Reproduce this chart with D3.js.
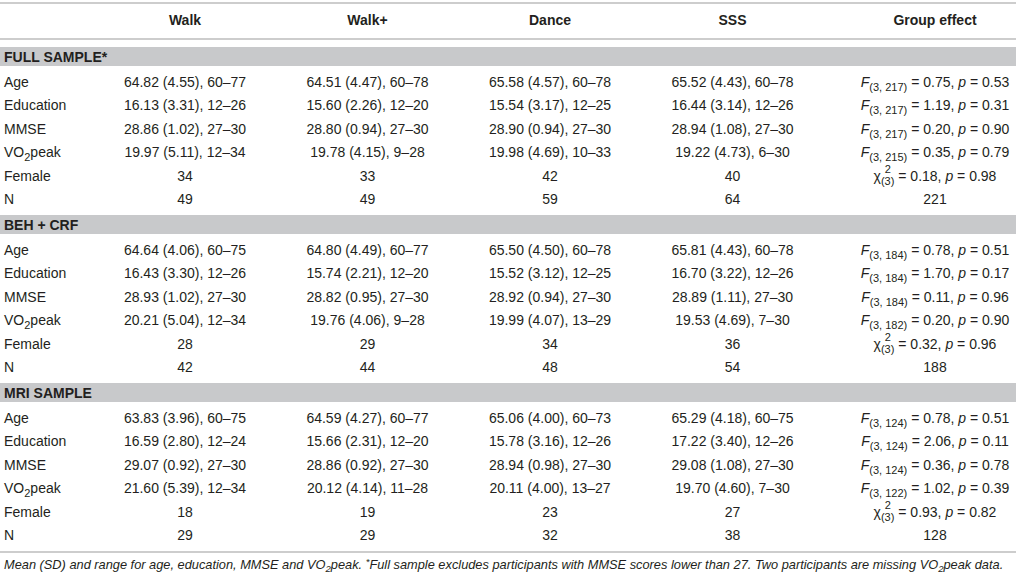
<!DOCTYPE html>
<html><head><meta charset="utf-8">
<script src="https://cdn.jsdelivr.net/npm/d3@7"></script>
<style>
html,body{margin:0;padding:0;background:#fff;}
svg text{font-family:"Liberation Sans",Arial,Helvetica,sans-serif;fill:#231f20;}
</style></head>
<body>
<svg id="chart" width="1016" height="578"></svg>
<script>
// ---------- DATA ----------
const groups = ["Walk", "Walk+", "Dance", "SSS"];
const effectHeader = "Group effect";
const variables = ["Age", "Education", "MMSE", "VO2peak", "Female", "N"];
const sections = ["FULL SAMPLE*", "BEH + CRF", "MRI SAMPLE"];

// FULL SAMPLE
const fullMean  = [[64.82, 64.51, 65.58, 65.52], [16.13, 15.60, 15.54, 16.44], [28.86, 28.80, 28.90, 28.94], [19.97, 19.78, 19.98, 19.22]];
const fullSD    = [[4.55, 4.47, 4.57, 4.43], [3.31, 2.26, 3.17, 3.14], [1.02, 0.94, 0.94, 1.08], [5.11, 4.15, 4.69, 4.73]];
const fullMin   = [[60, 60, 60, 60], [12, 12, 12, 12], [27, 27, 27, 27], [12, 9, 10, 6]];
const fullMax   = [[77, 78, 78, 78], [26, 20, 25, 26], [30, 30, 30, 30], [34, 28, 33, 30]];
const fullFemale = [34, 33, 42, 40];
const fullN      = [49, 49, 59, 64];
const fullTotal  = 221;
const fullTests  = [["F", "3, 217", "0.75", "0.53"], ["F", "3, 217", "1.19", "0.31"], ["F", "3, 217", "0.20", "0.90"], ["F", "3, 215", "0.35", "0.79"], ["chi", "3", "0.18", "0.98"]];

// BEH + CRF
const behMean  = [[64.64, 64.80, 65.50, 65.81], [16.43, 15.74, 15.52, 16.70], [28.93, 28.82, 28.92, 28.89], [20.21, 19.76, 19.99, 19.53]];
const behSD    = [[4.06, 4.49, 4.50, 4.43], [3.30, 2.21, 3.12, 3.22], [1.02, 0.95, 0.94, 1.11], [5.04, 4.06, 4.07, 4.69]];
const behMin   = [[60, 60, 60, 60], [12, 12, 12, 12], [27, 27, 27, 27], [12, 9, 13, 7]];
const behMax   = [[75, 77, 78, 78], [26, 20, 25, 26], [30, 30, 30, 30], [34, 28, 29, 30]];
const behFemale = [28, 29, 34, 36];
const behN      = [42, 44, 48, 54];
const behTotal  = 188;
const behTests  = [["F", "3, 184", "0.78", "0.51"], ["F", "3, 184", "1.70", "0.17"], ["F", "3, 184", "0.11", "0.96"], ["F", "3, 182", "0.20", "0.90"], ["chi", "3", "0.32", "0.96"]];

// MRI SAMPLE
const mriMean  = [[63.83, 64.59, 65.06, 65.29], [16.59, 15.66, 15.78, 17.22], [29.07, 28.86, 28.94, 29.08], [21.60, 20.12, 20.11, 19.70]];
const mriSD    = [[3.96, 4.27, 4.00, 4.18], [2.80, 2.31, 3.16, 3.40], [0.92, 0.92, 0.98, 1.08], [5.39, 4.14, 4.00, 4.60]];
const mriMin   = [[60, 60, 60, 60], [12, 12, 12, 12], [27, 27, 27, 27], [12, 11, 13, 7]];
const mriMax   = [[75, 77, 73, 75], [24, 20, 26, 26], [30, 30, 30, 30], [34, 28, 27, 30]];
const mriFemale = [18, 19, 23, 27];
const mriN      = [29, 29, 32, 38];
const mriTotal  = 128;
const mriTests  = [["F", "3, 124", "0.78", "0.51"], ["F", "3, 124", "2.06", "0.11"], ["F", "3, 124", "0.36", "0.78"], ["F", "3, 122", "1.02", "0.39"], ["chi", "3", "0.93", "0.82"]];

const footnoteParts = [
  ["Mean (SD) and range for age, education, MMSE and VO", "n"], ["2", "sub"], ["peak. ", "n"],
  ["*", "sup"], ["Full sample excludes participants with MMSE scores lower than 27. Two participants are missing VO", "n"],
  ["2", "sub"], ["peak data.", "n"]
];

// ---------- BUILD ----------
const sectionData = [
  {mean: fullMean, sd: fullSD, min: fullMin, max: fullMax, female: fullFemale, n: fullN, total: fullTotal, tests: fullTests},
  {mean: behMean, sd: behSD, min: behMin, max: behMax, female: behFemale, n: behN, total: behTotal, tests: behTests},
  {mean: mriMean, sd: mriSD, min: mriMin, max: mriMax, female: mriFemale, n: mriN, total: mriTotal, tests: mriTests}
];

const W = 1016;
const svg = d3.select("#chart");
const FS = 14;
const SUB = 11;
const lineColor = "#bdbdbd";
const bandColor = "#c8c9cb";

const x = d3.scalePoint().domain(groups.concat([effectHeader])).range([185, 915]);
const effectX = x(effectHeader) + 20;
const bandTop = d3.scaleLinear().domain([0, 2]).range([47, 383]);
const bandH = 19;
const rowY = d3.scaleLinear().domain([0, 5]).range([35, 35 + 5 * 23.4]);

// header
svg.append("line").attr("x1", 0).attr("x2", W).attr("y1", 3).attr("y2", 3)
  .attr("stroke", lineColor).attr("stroke-width", 1.6);
svg.append("line").attr("x1", 0).attr("x2", W).attr("y1", 39).attr("y2", 39)
  .attr("stroke", lineColor).attr("stroke-width", 1.6);
svg.selectAll("text.hdr").data(groups.concat([effectHeader])).join("text")
  .attr("class", "hdr")
  .attr("x", d => d === effectHeader ? effectX : x(d))
  .attr("y", 20).attr("dy", "0.35em").attr("text-anchor", "middle")
  .style("font-size", FS + "px").style("font-weight", "bold").text(d => d);

function fmt2(v) { return d3.format(".2f")(v); }

function addVarLabel(g, name, y) {
  const t = g.append("text").attr("x", 4).attr("y", y).attr("dy", "0.35em").style("font-size", FS + "px");
  if (name === "VO2peak") {
    t.append("tspan").text("VO");
    t.append("tspan").attr("dy", 4).style("font-size", SUB + "px").text("2");
    t.append("tspan").attr("dy", -4).text("peak");
  } else t.text(name);
}

function addTest(g, test, cx, y) {
  const [type, df, stat, p] = test;
  const t = g.append("text").attr("x", cx).attr("y", y).attr("dy", "0.35em")
    .attr("text-anchor", "middle").style("font-size", FS + "px");
  if (type === "F") {
    t.append("tspan").style("font-style", "italic").text("F");
    t.append("tspan").attr("dy", 4).style("font-size", SUB + "px").text("(" + df + ")");
    t.append("tspan").attr("dy", -4).text(" = " + stat + ", ");
  } else {
    t.append("tspan").text("\u03C7");
    t.append("tspan").attr("dy", 4).style("font-size", SUB + "px").text("(" + df + ")");
    t.append("tspan").attr("dy", -4).text(" = " + stat + ", ");
  }
  t.append("tspan").style("font-style", "italic").text("p");
  t.append("tspan").text(" = " + p);
  if (type === "chi") {
    const node = t.node();
    const a = node.getExtentOfChar(1), b = node.getExtentOfChar(1 + df.length + 1);
    const mid = (a.x + b.x + b.width) / 2;
    g.append("text").attr("x", mid).attr("y", y - 6).attr("dy", "0.35em")
      .attr("text-anchor", "middle").style("font-size", SUB + "px").text("2");
  }
}

sections.forEach((name, si) => {
  const d = sectionData[si];
  const top = bandTop(si);
  const g = svg.append("g").attr("transform", `translate(0,${top})`);
  g.append("rect").attr("x", 0).attr("y", 0).attr("width", W).attr("height", bandH).attr("fill", bandColor);
  g.append("text").attr("x", 4).attr("y", bandH / 2 + 0.5).attr("dy", "0.35em")
    .style("font-size", FS + "px").style("font-weight", "bold").text(name);

  variables.forEach((v, vi) => {
    const y = rowY(vi);
    addVarLabel(g, v, y);
    let cells;
    if (vi < 4) cells = groups.map((grp, gi) => `${fmt2(d.mean[vi][gi])} (${fmt2(d.sd[vi][gi])}), ${d.min[vi][gi]}\u2013${d.max[vi][gi]}`);
    else if (vi === 4) cells = d.female.map(String);
    else cells = d.n.map(String);
    g.selectAll(null).data(cells).join("text")
      .attr("x", (c, gi) => x(groups[gi])).attr("y", y).attr("dy", "0.35em")
      .attr("text-anchor", "middle").style("font-size", FS + "px").text(c => c);
    if (vi < 5) addTest(g, d.tests[vi], effectX, y);
    else g.append("text").attr("x", effectX).attr("y", y).attr("dy", "0.35em")
      .attr("text-anchor", "middle").style("font-size", FS + "px").text(d.total);
  });
});

// bottom rule
svg.append("line").attr("x1", 0).attr("x2", W).attr("y1", 552).attr("y2", 552)
  .attr("stroke", lineColor).attr("stroke-width", 1.6);

// footnote
const fn = svg.append("text").attr("x", 4).attr("y", 569).attr("dy", "0.35em")
  .style("font-size", "12.8px").style("font-style", "italic");
let shift = 0;
footnoteParts.forEach(([txt, kind]) => {
  let target = kind === "sub" ? 3 : kind === "sup" ? -4 : 0;
  const ts = fn.append("tspan").attr("dy", target - shift).text(txt);
  if (kind !== "n") ts.style("font-size", "9.5px");
  shift = target;
});
</script>
</body></html>
